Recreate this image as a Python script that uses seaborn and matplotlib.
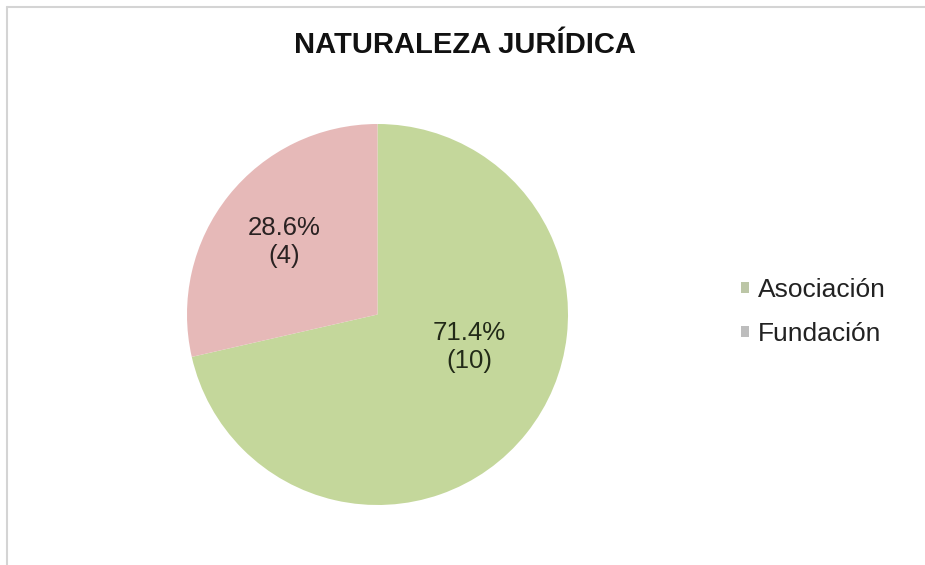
import matplotlib
matplotlib.use("Agg")
import matplotlib.pyplot as plt
import seaborn as sns
from matplotlib.patches import Patch
from matplotlib.lines import Line2D

sns.set_theme(style="white")
plt.rcParams['font.family'] = ['Liberation Sans', 'DejaVu Sans']

title = "NATURALEZA JURÍDICA"
categories = ["Asociación", "Fundación"]
counts = [10, 4]
percent_labels = ["71.4%", "28.6%"]
slice_colors = ["#c4d79b", "#e6b9b8"]
legend_colors = ["#bcc6a6", "#bdbdbd"]

fig = plt.figure(figsize=(9.25, 5.65), dpi=100)
fig.patch.set_facecolor("white")

# frame lines (top and left) of the cropped chart area
fig.add_artist(Line2D([7/925, 1], [1 - 7/565, 1 - 7/565], transform=fig.transFigure,
                      color="#d4d4d4", lw=1.5))
fig.add_artist(Line2D([7/925, 7/925], [0, 1 - 7/565], transform=fig.transFigure,
                      color="#d4d4d4", lw=1.5))

ax = fig.add_axes([187/925, (565-505)/565, 381/925, 381/565])
wedges, _ = ax.pie(counts, colors=slice_colors, startangle=90, counterclock=False,
                   wedgeprops=dict(linewidth=0))
ax.set_aspect("auto")
ax.set_xlim(-1, 1)
ax.set_ylim(-1, 1)

# data labels
ax.text(-0.49, 0.38, f"{percent_labels[1]}\n({counts[1]})", ha="center", va="center",
        fontsize=18.5, color="#2a2222", linespacing=1.25)
ax.text(0.48, -0.17, f"{percent_labels[0]}\n({counts[0]})", ha="center", va="center",
        fontsize=18.5, color="#222a18", linespacing=1.25)

fig.text(465/925, 1 - 45/565, title, ha="center", va="center", fontsize=21,
         fontweight="bold", color="#111111")

handles = [Patch(facecolor=c, edgecolor="none") for c in legend_colors]
fig.legend(handles, categories, loc="center left", bbox_to_anchor=(717/925, 1 - 312/565),
           frameon=False, fontsize=19, handlelength=0.3, handleheight=0.3,
           handletextpad=0.35, labelspacing=0.75, labelcolor="#222222")

fig.savefig("out.png", dpi=100, facecolor="white")
